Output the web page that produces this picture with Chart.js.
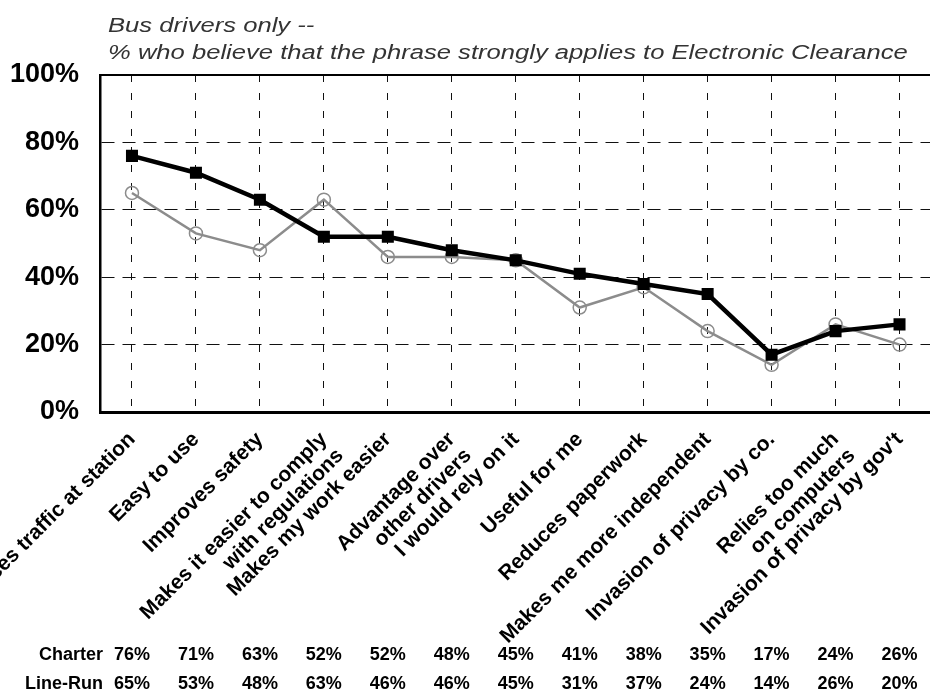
<!DOCTYPE html>
<html>
<head>
<meta charset="utf-8">
<script src="https://cdn.jsdelivr.net/npm/chart.js@4"></script>
<style>
  html, body { margin: 0; padding: 0; background: #fff; overflow: hidden; }
</style>
</head>
<body>
<canvas id="chart" width="940" height="694"></canvas>
<script>
var categories = [
  "Reduces traffic at station",
  "Easy to use",
  "Improves safety",
  ["Makes it easier to comply", "with regulations"],
  "Makes my work easier",
  ["Advantage over", "other drivers"],
  "I would rely on it",
  "Useful for me",
  "Reduces paperwork",
  "Makes me more independent",
  "Invasion of privacy by co.",
  ["Relies too much", "on computers"],
  "Invasion of privacy by gov't"
];
var charter = [76, 71, 63, 52, 52, 48, 45, 41, 38, 35, 17, 24, 26];
var lineRun = [65, 53, 48, 63, 46, 46, 45, 31, 37, 24, 14, 26, 20];
var yTicks = [0, 20, 40, 60, 80, 100];
var titleLines = [
  "Bus drivers only --",
  "% who believe that the phrase strongly applies to Electronic Clearance"
];
var rowNames = ["Charter", "Line-Run"];

var FONT = '"Liberation Sans", Arial, sans-serif';

// title, solid top frame line and the little data table under the labels
var extras = {
  id: 'extras',
  afterDraw: function(chart) {
    var ctx = chart.ctx, area = chart.chartArea, xs = chart.scales.x;
    ctx.save();
    ctx.strokeStyle = '#000';
    ctx.lineWidth = 2;
    ctx.beginPath();
    ctx.moveTo(area.left, area.top);
    ctx.lineTo(area.right, area.top);
    ctx.stroke();

    ctx.fillStyle = '#333';
    ctx.font = 'italic 20px ' + FONT;
    ctx.textAlign = 'left';
    ctx.textBaseline = 'alphabetic';
    titleLines.forEach(function(t, i) {
      ctx.save();
      ctx.translate(108, 32 + i * 27);
      ctx.scale(1.28, 1);
      ctx.fillText(t, 0, 0);
      ctx.restore();
    });

    ctx.fillStyle = '#000';
    ctx.font = 'bold 18px ' + FONT;
    ctx.textBaseline = 'middle';
    [charter, lineRun].forEach(function(row, r) {
      var y = 655 + r * 29;
      ctx.textAlign = 'right';
      ctx.fillText(rowNames[r], 103, y);
      ctx.textAlign = 'center';
      row.forEach(function(v, i) {
        ctx.fillText(v + '%', xs.getPixelForValue(i), y);
      });
    });
    ctx.restore();
  }
};

new Chart(document.getElementById('chart'), {
  type: 'line',
  data: {
    labels: categories,
    datasets: [{
      label: 'Charter',
      data: charter,
      borderColor: '#000',
      backgroundColor: '#000',
      borderWidth: 4.5,
      pointStyle: 'rect',
      pointRadius: 8.5,
      pointBorderWidth: 0,
      tension: 0
    }, {
      label: 'Line-Run',
      data: lineRun,
      borderColor: '#8c8c8c',
      backgroundColor: 'rgba(255,255,255,0)',
      borderWidth: 2.5,
      pointStyle: 'circle',
      pointRadius: 6.5,
      pointBorderWidth: 1.5,
      pointBorderColor: '#8c8c8c',
      tension: 0
    }]
  },
  options: {
    responsive: false,
    animation: false,
    layout: { padding: { top: 75, right: 2, bottom: 0, left: 0 } },
    plugins: {
      legend: { display: false },
      tooltip: { enabled: false }
    },
    scales: {
      x: {
        offset: true,
        grid: { color: '#111', lineWidth: 1, drawTicks: false, offset: false },
        border: { display: true, color: '#000', width: 3, dash: [7, 11] },
        ticks: {
          autoSkip: false,
          maxRotation: 45,
          minRotation: 45,
          padding: 16,
          color: '#000',
          font: { family: FONT, size: 21, weight: 'bold', lineHeight: 1.1 }
        },
        afterFit: function(scale) {
          scale.height = 282;
          scale.paddingLeft = 0;
          scale.paddingRight = 0;
        }
      },
      y: {
        min: 0,
        max: 100,
        grid: { color: '#111', lineWidth: 1, drawTicks: false },
        border: { display: true, color: '#000', width: 2.5, dash: [13, 8] },
        afterBuildTicks: function(scale) {
          scale.ticks = yTicks.map(function(v) { return { value: v }; });
        },
        ticks: {
          padding: 21,
          color: '#000',
          font: { family: FONT, size: 27, weight: 'bold' },
          callback: function(v) { return v + '%'; }
        },
        afterFit: function(scale) {
          scale.width = 100;
        }
      }
    }
  },
  plugins: [extras]
});
</script>
</body>
</html>
